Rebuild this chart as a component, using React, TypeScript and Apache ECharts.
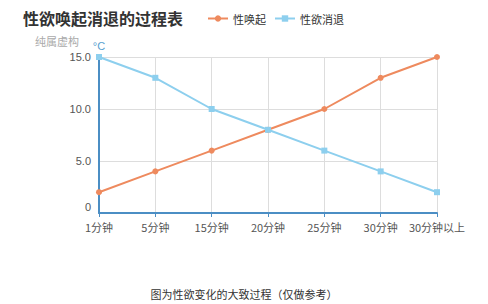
import React, { useEffect, useRef } from "react";
import * as echarts from "echarts";

const categories = ["1分钟", "5分钟", "15分钟", "20分钟", "25分钟", "30分钟", "30分钟以上"];
const arousal = [2, 4, 6, 8, 10, 13, 15];
const decline = [15, 13, 10, 8, 6, 4, 2];
const yTicks = [0, 5, 10, 15];

export default function App() {
  const ref = useRef<HTMLDivElement>(null);
  useEffect(() => {
    if (!ref.current) return;
    const chart = echarts.init(ref.current, null, { renderer: "svg" });
    chart.setOption({
      animation: false,
      backgroundColor: "#ffffff",
      title: [
        {
          text: "性欲唤起消退的过程表",
          left: 18,
          top: 5,
          textStyle: { fontSize: 16, fontWeight: "bold", color: "#333", fontFamily: "Noto Sans CJK SC" },
        },
        {
          text: "纯属虚构",
          left: 30,
          top: 30,
          textStyle: { fontSize: 11, fontWeight: "normal", color: "#aaa", fontFamily: "Noto Sans CJK SC" },
        },
        {
          text: "图为性欲变化的大致过程（仅做参考）",
          left: "center",
          top: 283,
          textStyle: { fontSize: 11, fontWeight: "normal", color: "#333", fontFamily: "Noto Sans CJK SC" },
        },
      ],
      legend: {
        left: 202,
        top: 8,
        itemWidth: 20,
        itemHeight: 8,
        itemGap: 8,
        textStyle: { fontSize: 11, color: "#333", fontFamily: "Noto Sans CJK SC" },
        data: ["性唤起", "性欲消退"],
      },
      grid: { left: 99, right: 51, top: 57, bottom: 91 },
      xAxis: {
        type: "category",
        data: categories,
        boundaryGap: false,
        axisLine: { lineStyle: { color: "#4b8ec4", width: 2 } },
        axisTick: { show: true, lineStyle: { color: "#4b8ec4" }, length: 4, interval: 0 },
        axisLabel: { color: "#555", fontSize: 11, margin: 8, interval: 0, fontFamily: "Noto Sans CJK SC" },
        splitLine: { show: true, interval: 0, lineStyle: { color: "#ddd" } },
      },
      yAxis: {
        type: "value",
        name: "°C",
        nameGap: 6,
        nameTextStyle: { color: "#5aa0d0", fontSize: 11, align: "center" },
        min: yTicks[0],
        max: yTicks[yTicks.length - 1],
        interval: 5,
        axisLine: { show: true, lineStyle: { color: "#4b8ec4", width: 2 } },
        axisTick: { show: false },
        axisLabel: {
          color: "#555",
          fontSize: 11,
          margin: 8,
          formatter: (v: number) => (v === 0 ? "{z|0}" : v.toFixed(1)),
          rich: { z: { color: "#555", fontSize: 11, padding: [0, 0, 12, 0] } },
        },
        splitLine: { show: true, lineStyle: { color: "#ddd" } },
      },
      series: [
        {
          name: "性唤起",
          type: "line",
          data: arousal,
          symbol: "circle",
          symbolSize: 6,
          itemStyle: { color: "#ee8a5e" },
          lineStyle: { color: "#ee8a5e", width: 2 },
        },
        {
          name: "性欲消退",
          type: "line",
          data: decline,
          symbol: "rect",
          symbolSize: 6,
          itemStyle: { color: "#8dcfee" },
          lineStyle: { color: "#8dcfee", width: 2 },
        },
      ],
    });
    return () => chart.dispose();
  }, []);
  return <div ref={ref} style={{ width: 488, height: 304, position: "absolute", left: 0, top: 0 }} />;
}
